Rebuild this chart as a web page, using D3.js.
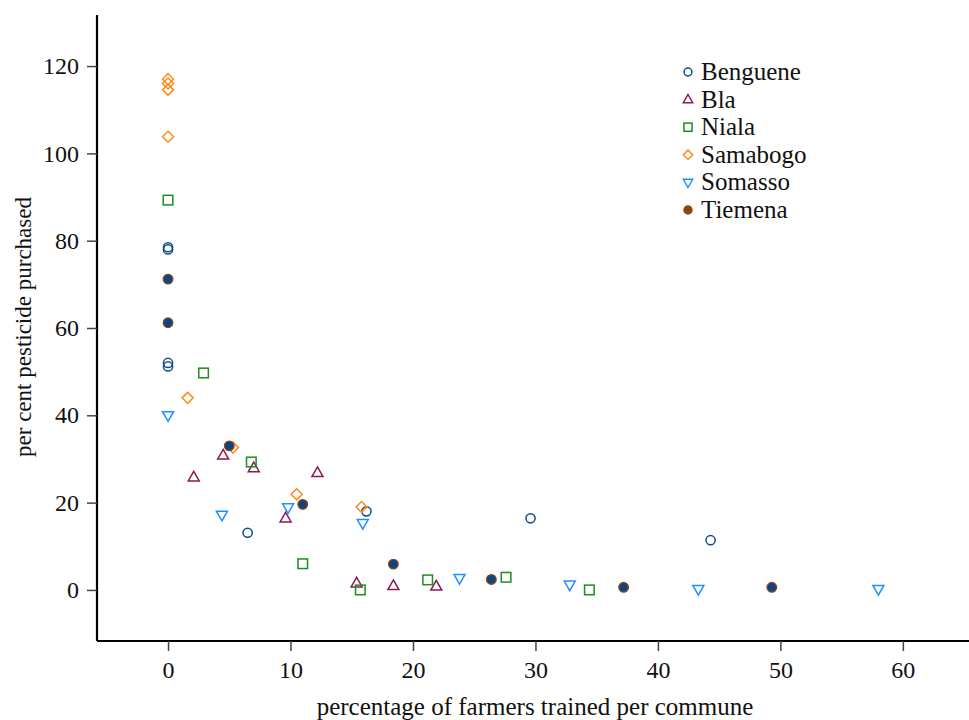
<!DOCTYPE html>
<html><head><meta charset="utf-8">
<script src="https://cdn.jsdelivr.net/npm/d3@7"></script>
<style>body{margin:0;background:#fff;} text{font-family:"Liberation Serif","Times New Roman",serif;}</style>
</head><body><svg id="c" width="969" height="720"></svg>
<script>
const xTicks = [0,10,20,30,40,50,60];
const yTicks = [0,20,40,60,80,100,120];
const benguene = [[0,78.5],[0,78.0],[0,52.0],[0,51.2],[6.5,13.1],[16.2,18.0],[29.6,16.4],[44.3,11.4]];
const bla = [[2.1,25.8],[4.5,30.8],[7.0,27.9],[12.2,26.8],[9.6,16.4],[15.4,1.5],[18.4,0.9],[21.9,0.8]];
const niala = [[0,89.3],[2.9,49.7],[6.8,29.3],[11.0,6.0],[15.7,0],[21.2,2.3],[27.6,2.9],[34.4,0]];
const samabogo = [[0,117.0],[0,116.0],[0,114.6],[0,103.8],[1.6,44.0],[5.3,32.6],[10.5,21.9],[15.8,19.0]];
const somasso = [[0,40.0],[4.4,17.2],[9.8,18.9],[15.9,15.3],[23.8,2.7],[32.8,1.2],[43.3,0.2],[58.0,0.2]];
const tiemena = [[0,71.2],[0,61.2],[5.0,33.0],[11.0,19.6],[18.4,5.9],[26.4,2.4],[37.2,0.6],[49.3,0.6]];
const seriesNames = ["Benguene","Bla","Niala","Samabogo","Somasso","Tiemena"];

const series = [
  {name:seriesNames[0], data:benguene, shape:"circle", stroke:"#114b8c", fill:"none"},
  {name:seriesNames[1], data:bla, shape:"triUp", stroke:"#8b1a4f", fill:"none"},
  {name:seriesNames[2], data:niala, shape:"square", stroke:"#228b22", fill:"none"},
  {name:seriesNames[3], data:samabogo, shape:"diamond", stroke:"#ff8c1a", fill:"none"},
  {name:seriesNames[4], data:somasso, shape:"triDown", stroke:"#1e90ff", fill:"none"},
  {name:seriesNames[5], data:tiemena, shape:"dot", stroke:"#8b4513", fill:"#0b4585"}
];

const svg = d3.select("#c");
const x = d3.scaleLinear().domain([-5.8,65.4]).range([97,969]);
const y = d3.scaleLinear().domain([-11.7,131.7]).range([641,15]);

// axes
const xAxis = svg.append("g").attr("transform","translate(0,641)")
  .call(d3.axisBottom(x).tickValues(xTicks).tickSize(10).tickPadding(10));
const yAxis = svg.append("g").attr("transform","translate(97,0)")
  .call(d3.axisLeft(y).tickValues(yTicks).tickSize(10).tickPadding(8));
[xAxis,yAxis].forEach(a=>{
  a.select(".domain").attr("stroke","#000").attr("stroke-width",2.2);
  a.selectAll(".tick line").attr("stroke","#444").attr("stroke-width",1.5);
  a.selectAll(".tick text").attr("font-size",24).attr("fill","#111").style("font-family","Liberation Serif, serif");
});
xAxis.select(".domain").attr("d","M97,0H969");
yAxis.select(".domain").attr("d","M0,15V641");

svg.append("text").attr("x",535).attr("y",715).attr("text-anchor","middle").attr("font-size",25).attr("fill","#111")
  .text("percentage of farmers trained per commune");
svg.append("text").attr("transform","translate(31,327) rotate(-90)").attr("text-anchor","middle").attr("font-size",23).attr("fill","#111")
  .text("per cent pesticide purchased");

function drawShape(g, shape, s, stroke, fill){
  const sw = 1.5;
  if(shape==="circle") g.append("circle").attr("r",4.6*s).attr("fill","none").attr("stroke",stroke).attr("stroke-width",sw);
  else if(shape==="dot") g.append("circle").attr("r",4.8*s).attr("fill",fill).attr("stroke",stroke).attr("stroke-width",1.3);
  else if(shape==="square") g.append("rect").attr("x",-4.8*s).attr("y",-4.8*s).attr("width",9.6*s).attr("height",9.6*s).attr("fill","none").attr("stroke",stroke).attr("stroke-width",sw);
  else if(shape==="diamond") g.append("path").attr("d",`M0,${-5.5*s}L${5.5*s},0L0,${5.5*s}L${-5.5*s},0Z`).attr("fill","none").attr("stroke",stroke).attr("stroke-width",sw);
  else if(shape==="triUp") g.append("path").attr("d",`M0,${-6*s}L${5.5*s},${3.6*s}L${-5.5*s},${3.6*s}Z`).attr("fill","none").attr("stroke",stroke).attr("stroke-width",sw);
  else if(shape==="triDown") g.append("path").attr("d",`M0,${6*s}L${5.5*s},${-3.6*s}L${-5.5*s},${-3.6*s}Z`).attr("fill","none").attr("stroke",stroke).attr("stroke-width",sw);
}

series.forEach(sr=>{
  const g = svg.append("g");
  sr.data.forEach(d=>{
    const m = g.append("g").attr("transform",`translate(${x(d[0])},${y(d[1])})`);
    const markerFill = sr.shape==="dot" ? sr.fill : "none";
    drawShape(m, sr.shape, 1, sr.stroke, markerFill);
  });
});

// legend
const leg = svg.append("g");
series.forEach((sr,i)=>{
  const yy = 72 + i*27.6;
  const m = leg.append("g").attr("transform",`translate(688,${yy})`);
  drawShape(m, sr.shape, 0.85, sr.stroke, sr.shape==="dot" ? "#8b4513" : "none");
  leg.append("text").attr("x",701).attr("y",yy+8).attr("font-size",25).attr("fill","#111").text(sr.name);
});
</script></body></html>
